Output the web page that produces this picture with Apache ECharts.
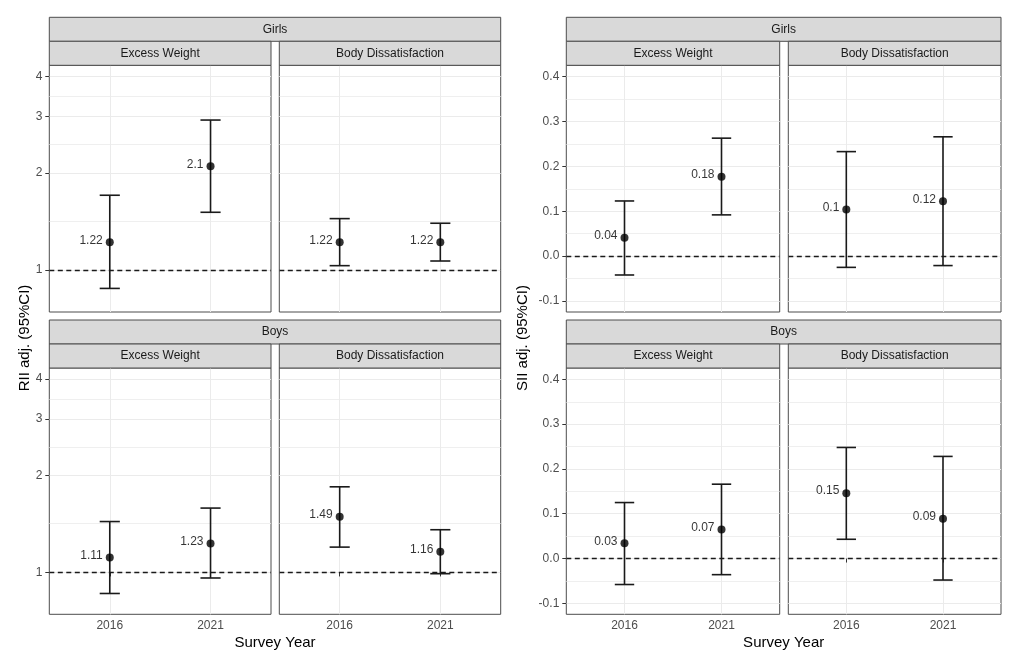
<!DOCTYPE html>
<html>
<head>
<meta charset="utf-8">
<script src="https://cdn.jsdelivr.net/npm/echarts@6/dist/echarts.min.js"></script>
<style>
  html, body { margin: 0; padding: 0; background: #fff; }
  #main { width: 1031px; height: 661px; }
</style>
</head>
<body>
<div id="main"></div>
<script>
// ---------------- data ----------------
const years = ['2016', '2021'];
const outcomes = ['Excess Weight', 'Body Dissatisfaction'];
const sexes = ['Girls', 'Boys'];
// order: Girls-EW 2016, Girls-EW 2021, Girls-BD 2016, Girls-BD 2021, Boys-EW 2016, Boys-EW 2021, Boys-BD 2016, Boys-BD 2021
const riiEst   = [1.22, 2.10, 1.22, 1.22, 1.113, 1.23, 1.49, 1.16];
const riiLow   = [0.877, 1.512, 1.032, 1.067, 0.860, 0.961, 1.199, 0.991];
const riiHigh  = [1.708, 2.925, 1.445, 1.398, 1.440, 1.586, 1.847, 1.358];
const riiLabels = ['1.22', '2.1', '1.22', '1.22', '1.11', '1.23', '1.49', '1.16'];
const siiEst   = [0.041, 0.177, 0.104, 0.1225, 0.034, 0.065, 0.146, 0.089];
const siiLow   = [-0.042, 0.092, -0.025, -0.021, -0.058, -0.036, 0.043, -0.048];
const siiHigh  = [0.123, 0.263, 0.233, 0.266, 0.125, 0.166, 0.248, 0.228];
const siiLabels = ['0.04', '0.18', '0.1', '0.12', '0.03', '0.07', '0.15', '0.09'];
const riiTicks = [1, 2, 3, 4];
const siiTicks = [-0.1, 0.0, 0.1, 0.2, 0.3, 0.4];
const yTitles = ['RII adj. (95%CI)', 'SII adj. (95%CI)'];
const xTitle = 'Survey Year';

// ---------------- layout ----------------
const FONT = '"Liberation Sans", Arial, sans-serif';
const colX = [[49.3, 271], [279.3, 500.7], [566.3, 779.7], [788.3, 1001]];
const rowY = [[65.3, 312], [368, 614.3]];
const GRID_C = '#ebebeb';
const BORDER_C = '#4d4d4d';

// log transform for RII (ggplot log scale)
const ln = Math.log;
const riiMinor = [Math.sqrt(2), Math.sqrt(6), Math.sqrt(12)].map(ln);
const siiMinor = [-0.05, 0.05, 0.15, 0.25, 0.35];

const grids = [], xAxes = [], yAxes = [], series = [], graphics = [];

for (let p = 0; p < 2; p++) {
  const isRII = p === 0;
  for (let r = 0; r < 2; r++) {
    const top = rowY[r][0];
    const ox0 = colX[p * 2][0], ox1 = colX[p * 2 + 1][1];
    graphics.push({ type: 'rect', shape: { x: ox0, y: top - 48, width: ox1 - ox0, height: 24 },
      style: { fill: '#d9d9d9', stroke: BORDER_C, lineWidth: 1 }, z: 10 });
    graphics.push({ type: 'text', x: (ox0 + ox1) / 2, y: top - 36,
      style: { text: sexes[r], fontSize: 12, fontFamily: FONT, fill: '#1a1a1a', align: 'center', verticalAlign: 'middle' }, z: 11 });
    for (let c = 0; c < 2; c++) {
      const g = p * 4 + r * 2 + c;
      const [x0, x1] = colX[p * 2 + c];
      const [y0, y1] = rowY[r];
      graphics.push({ type: 'rect', shape: { x: x0, y: y0 - 24, width: x1 - x0, height: 24 },
        style: { fill: '#d9d9d9', stroke: BORDER_C, lineWidth: 1 }, z: 10 });
      graphics.push({ type: 'text', x: (x0 + x1) / 2, y: y0 - 12,
        style: { text: outcomes[c], fontSize: 12, fontFamily: FONT, fill: '#1a1a1a', align: 'center', verticalAlign: 'middle' }, z: 11 });

      grids.push({ left: x0, top: y0, width: x1 - x0, height: y1 - y0, show: true,
        borderColor: BORDER_C, borderWidth: 1, backgroundColor: '#fff', containLabel: false });

      xAxes.push({
        type: 'value', gridIndex: g, min: 0.4, max: 2.6,
        axisLine: { show: false },
        axisTick: { show: r === 1, customValues: [1, 2], length: 4, lineStyle: { color: '#333', width: 1 } },
        axisLabel: { show: r === 1, customValues: [1, 2], margin: 5, fontSize: 12, fontFamily: FONT, color: '#4d4d4d',
          formatter: v => years[Math.round(v) - 1] },
        splitLine: { show: true, lineStyle: { color: GRID_C, width: 1 } }
      });

      const majors = isRII ? riiTicks.map(ln) : siiTicks;
      yAxes.push({
        type: 'value', gridIndex: g,
        min: isRII ? -0.30 : -0.1245,
        max: isRII ? 1.465 : 0.4254,
        axisLine: { show: false },
        axisTick: { show: c === 0, customValues: majors, length: 4, lineStyle: { color: '#333', width: 1 } },
        axisLabel: { show: c === 0, customValues: majors, margin: 7, fontSize: 12, fontFamily: FONT, color: '#4d4d4d',
          formatter: v => isRII ? String(Math.round(Math.exp(v))) : v.toFixed(1) },
        splitLine: { show: true, lineStyle: { color: GRID_C, width: 1 } }
      });

      const minors = isRII ? riiMinor : siiMinor;
      const refVal = 0; // ln(1) = 0 for RII, 0 for SII
      series.push({
        type: 'line', xAxisIndex: g, yAxisIndex: g, data: [], silent: true, z: 1,
        markLine: {
          z: 1, silent: true, symbol: ['none', 'none'], label: { show: false }, animation: false,
          data: minors.map(v => ({ yAxis: v, lineStyle: { color: GRID_C, width: 0.8, type: 'solid' } }))
            .concat([{ yAxis: refVal, lineStyle: { color: '#1a1a1a', width: 1.3, type: [5, 3.5] } }])
        }
      });

      const est = isRII ? riiEst : siiEst;
      const low = isRII ? riiLow : siiLow;
      const high = isRII ? riiHigh : siiHigh;
      const labs = isRII ? riiLabels : siiLabels;
      const tf = isRII ? ln : (v => v);
      const idx = [r * 4 + c * 2, r * 4 + c * 2 + 1];

      series.push({
        type: 'custom', xAxisIndex: g, yAxisIndex: g, z: 3, silent: true,
        encode: { x: 0, y: [1, 2] },
        data: idx.map((k, j) => [j + 1, tf(low[k]), tf(high[k])]),
        renderItem: function (params, api) {
          const x = api.value(0), lo = api.value(1), hi = api.value(2);
          const pLo = api.coord([x, lo]), pHi = api.coord([x, hi]);
          const half = api.coord([x + 0.1, lo])[0] - pLo[0];
          const st = { stroke: '#1a1a1a', lineWidth: 1.6, fill: null };
          return { type: 'group', children: [
            { type: 'line', shape: { x1: pLo[0], y1: pLo[1], x2: pHi[0], y2: pHi[1] }, style: st },
            { type: 'line', shape: { x1: pLo[0] - half, y1: pLo[1], x2: pLo[0] + half, y2: pLo[1] }, style: st },
            { type: 'line', shape: { x1: pHi[0] - half, y1: pHi[1], x2: pHi[0] + half, y2: pHi[1] }, style: st }
          ] };
        }
      });

      series.push({
        type: 'scatter', xAxisIndex: g, yAxisIndex: g, z: 4, silent: true,
        symbol: 'circle', symbolSize: 8,
        itemStyle: { color: '#000' },
        data: idx.map((k, j) => ({ value: [j + 1, tf(est[k])], labelText: labs[k] })),
        label: { show: true, position: 'left', distance: 3, offset: [0, -2],
          fontSize: 12, fontFamily: FONT, color: '#000',
          formatter: prm => prm.data.labelText }
      });
    }
  }
}

// axis titles
graphics.push({ type: 'text', x: 275, y: 643, style: { text: xTitle, fontSize: 15, fontFamily: FONT, fill: '#000', align: 'center', verticalAlign: 'middle' } });
graphics.push({ type: 'text', x: 783.7, y: 643, style: { text: xTitle, fontSize: 15, fontFamily: FONT, fill: '#000', align: 'center', verticalAlign: 'middle' } });
graphics.push({ type: 'text', x: 25, y: 338, rotation: Math.PI / 2, style: { text: yTitles[0], fontSize: 15, fontFamily: FONT, fill: '#000', align: 'center', verticalAlign: 'middle' } });
graphics.push({ type: 'text', x: 523, y: 338, rotation: Math.PI / 2, style: { text: yTitles[1], fontSize: 15, fontFamily: FONT, fill: '#000', align: 'center', verticalAlign: 'middle' } });

const chart = echarts.init(document.getElementById('main'));
chart.setOption({
  animation: false,
  backgroundColor: '#fff',
  grid: grids,
  xAxis: xAxes,
  yAxis: yAxes,
  series: series,
  graphic: graphics
});
</script>
</body>
</html>
